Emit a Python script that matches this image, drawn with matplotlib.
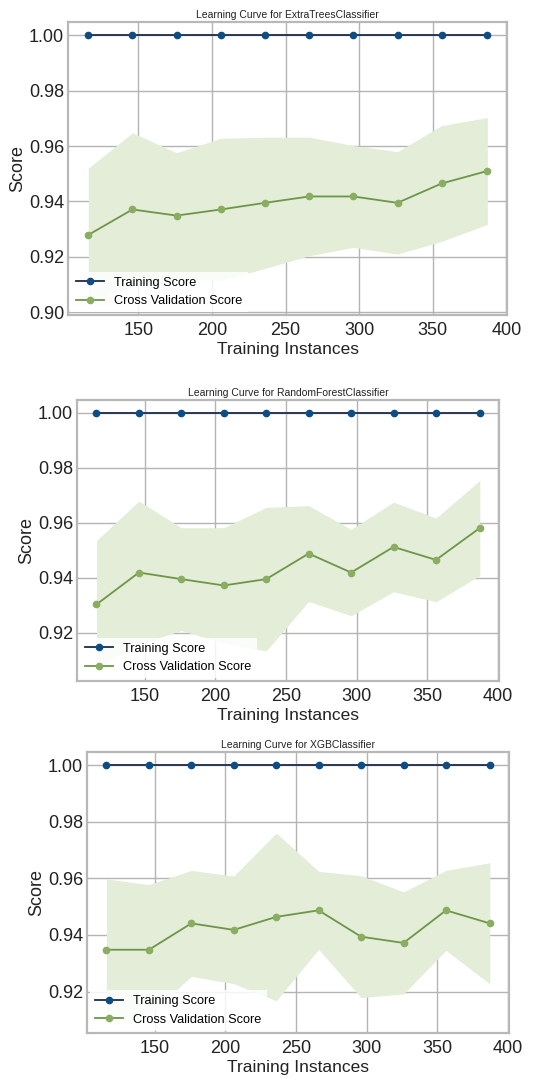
import numpy as np
import matplotlib
matplotlib.use("Agg")
import matplotlib.pyplot as plt

plt.rcParams["font.family"] = ["Liberation Sans", "DejaVu Sans"]

# training set sizes used for every model
train_sizes = [116, 146, 176, 206, 236, 266, 296, 326, 356, 387]

# training score (all models fit the training folds perfectly)
train_extra = [1.0] * 10
train_rf = [1.0] * 10
train_xgb = [1.0] * 10

# cross validation score: mean, upper and lower band
cv_extra = [0.9279, 0.9371, 0.9349, 0.9371, 0.9395, 0.9418, 0.9418, 0.9395, 0.9465, 0.9510]
cv_extra_hi = [0.9520, 0.9648, 0.9576, 0.9628, 0.9632, 0.9632, 0.9602, 0.9580, 0.9674, 0.9703]
cv_extra_lo = [0.9038, 0.9094, 0.9122, 0.9114, 0.9158, 0.9204, 0.9234, 0.9210, 0.9256, 0.9317]

cv_rf = [0.9303, 0.9419, 0.9395, 0.9372, 0.9395, 0.9488, 0.9419, 0.9512, 0.9465, 0.9581]
cv_rf_hi = [0.9535, 0.9679, 0.9582, 0.9582, 0.9656, 0.9662, 0.9576, 0.9675, 0.9617, 0.9754]
cv_rf_lo = [0.9071, 0.9159, 0.9208, 0.9162, 0.9134, 0.9314, 0.9262, 0.9349, 0.9313, 0.9408]

cv_xgb = [0.9348, 0.9348, 0.9441, 0.9418, 0.9464, 0.9487, 0.9394, 0.9372, 0.9487, 0.9441]
cv_xgb_hi = [0.9598, 0.9578, 0.9628, 0.9608, 0.9760, 0.9625, 0.9609, 0.9552, 0.9628, 0.9655]
cv_xgb_lo = [0.9098, 0.9118, 0.9254, 0.9228, 0.9168, 0.9349, 0.9179, 0.9192, 0.9346, 0.9227]

modelos = ["ExtraTreesClassifier", "RandomForestClassifier", "XGBClassifier"]

W, H = 543, 1079
fig = plt.figure(figsize=(W / 100, H / 100), dpi=100)

# axes boxes in pixels: left, right, top, bottom
cajas = [(68.3, 507.3, 22, 315), (77.3, 499, 400, 681), (87.3, 509, 752.3, 1033.3)]

datos = [
    (train_extra, cv_extra, cv_extra_lo, cv_extra_hi),
    (train_rf, cv_rf, cv_rf_lo, cv_rf_hi),
    (train_xgb, cv_xgb, cv_xgb_lo, cv_xgb_hi),
]

azul_linea = "#1c2b4a"
azul_punto = "#0f4c81"
verde_linea = "#6d9648"
verde_punto = "#8aad62"
verde_banda = "#e3edd8"

for (l, r, t, b), nombre, (tr, cv, lo, hi) in zip(cajas, modelos, datos):
    ax = fig.add_axes([l / W, 1 - b / H, (r - l) / W, (b - t) / H])
    ax.set_facecolor("white")
    ax.fill_between(train_sizes, lo, hi, color=verde_banda, lw=0, zorder=1)
    ax.plot(train_sizes, tr, color=azul_linea, lw=1.3, marker="o", ms=4.5,
            mfc=azul_punto, mec=azul_punto, label="Training Score", zorder=3)
    ax.plot(train_sizes, cv, color=verde_linea, lw=1.3, marker="o", ms=4.5,
            mfc=verde_punto, mec=verde_punto, label="Cross Validation Score", zorder=3)
    ax.margins(x=0.05, y=0.05)
    ax.autoscale_view()
    xlim, ylim = ax.get_xlim(), ax.get_ylim()
    ax.set_yticks([0.90, 0.92, 0.94, 0.96, 0.98, 1.00])
    ax.set_xticks([150, 200, 250, 300, 350, 400])
    ax.set_xlim(xlim)
    ax.set_ylim(ylim)
    ax.yaxis.set_major_formatter(matplotlib.ticker.FormatStrFormatter("%.2f"))
    ax.grid(True, color="#b4b4b4", lw=1.0, zorder=0)
    ax.set_axisbelow(True)
    for s in ax.spines.values():
        s.set_color("#b8b8b8")
        s.set_linewidth(1.6)
    ax.tick_params(length=0, labelsize=13, pad=3, colors="#222222")
    ax.tick_params(axis="x", pad=5)
    ax.set_title("Learning Curve for " + nombre, fontsize=7.5, pad=3, color="#222222")
    ax.set_xlabel("Training Instances", fontsize=12.5, labelpad=2, color="#222222")
    ax.set_ylabel("Score", fontsize=13, labelpad=2, color="#222222")
    leg = ax.legend(loc="lower left", fontsize=9.2, frameon=True, fancybox=False,
                    framealpha=0.85, edgecolor="white", borderaxespad=0.2,
                    handlelength=2.2, labelspacing=0.5, borderpad=0.4)
    leg.get_frame().set_linewidth(0)

fig.savefig("out.png", dpi=100, facecolor="white")
